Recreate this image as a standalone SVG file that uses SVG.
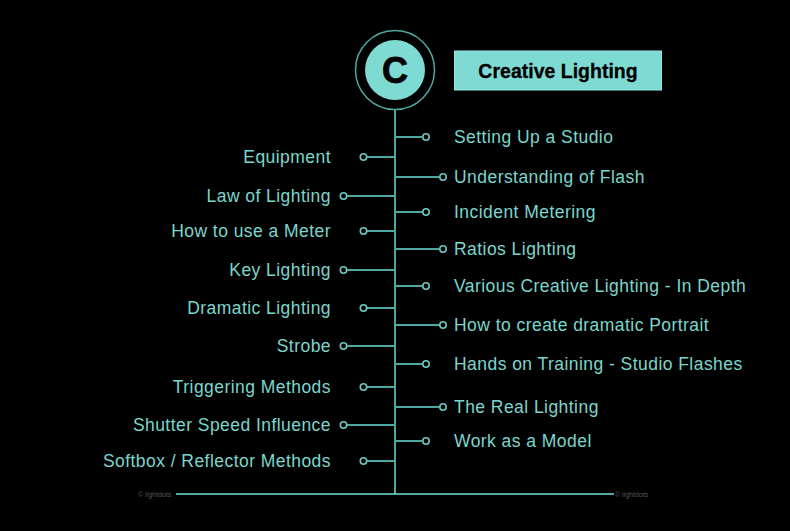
<svg xmlns="http://www.w3.org/2000/svg" width="790" height="531" viewBox="0 0 790 531">
<style>
.ln{stroke:#4fa8a0;stroke-width:2;fill:none}
.dot{stroke:#6cc8c0;stroke-width:1.6;fill:#000}
.lt{font-family:"Liberation Sans",Arial,sans-serif;font-size:17.5px;fill:#7ad6ce;letter-spacing:0.45px}
.l{text-anchor:end}
.wm{font-family:"Liberation Sans",Arial,sans-serif;font-size:7px;fill:#555}
</style>
<rect width="790" height="531" fill="#000"/>
<g id="connectors">
<line class="ln" x1="395" y1="110" x2="395" y2="494"/>
<line x1="176" y1="494" x2="614" y2="494" stroke="#6fe0d8" stroke-width="1.5"/>
<path class="ln" d="M395 157H367M395 196H347M395 231H367M395 270H347M395 308H367M395 346H347M395 387H367M395 425H347M395 461H367"/>
<path class="ln" d="M395 137H422M395 177H439M395 212H422M395 249H439M395 286H422M395 325H439M395 364H422M395 407H439M395 441H422"/>
</g>
<g id="hub">
<circle cx="395" cy="70" r="39.5" fill="none" stroke="#4fa8a0" stroke-width="1.5"/>
<circle cx="395" cy="70" r="30" fill="#7ddbd3"/>
<text x="395" y="83" text-anchor="middle" font-family="Liberation Sans,Arial,sans-serif" font-weight="bold" font-size="36" fill="#000" stroke="#000" stroke-width="0.8">C</text>
</g>
<g id="title">
<rect x="454.5" y="51" width="207" height="39" fill="#7ddbd3" stroke="#9ae8e0" stroke-width="1"/>
<text x="558" y="78" text-anchor="middle" font-family="Liberation Sans,Arial,sans-serif" font-weight="bold" font-size="19.5" fill="#000" stroke="#000" stroke-width="0.3">Creative Lighting</text>
</g>
<g id="n-equipment"><circle class="dot" cx="363.5" cy="157" r="3.2"/><text class="lt l" x="331" y="163">Equipment</text></g>
<g id="n-law"><circle class="dot" cx="343.5" cy="196" r="3.2"/><text class="lt l" x="331" y="202">Law of Lighting</text></g>
<g id="n-meter"><circle class="dot" cx="363.5" cy="231" r="3.2"/><text class="lt l" x="331" y="237">How to use a Meter</text></g>
<g id="n-key"><circle class="dot" cx="343.5" cy="270" r="3.2"/><text class="lt l" x="331" y="276">Key Lighting</text></g>
<g id="n-dramatic"><circle class="dot" cx="363.5" cy="308" r="3.2"/><text class="lt l" x="331" y="314">Dramatic Lighting</text></g>
<g id="n-strobe"><circle class="dot" cx="343.5" cy="346" r="3.2"/><text class="lt l" x="331" y="352">Strobe</text></g>
<g id="n-trigger"><circle class="dot" cx="363.5" cy="387" r="3.2"/><text class="lt l" x="331" y="393">Triggering Methods</text></g>
<g id="n-shutter"><circle class="dot" cx="343.5" cy="425" r="3.2"/><text class="lt l" x="331" y="431">Shutter Speed Influence</text></g>
<g id="n-softbox"><circle class="dot" cx="363.5" cy="461" r="3.2"/><text class="lt l" x="331" y="467">Softbox / Reflector Methods</text></g>
<g id="n-studio"><circle class="dot" cx="426" cy="137" r="3.2"/><text class="lt" x="454" y="143">Setting Up a Studio</text></g>
<g id="n-flash"><circle class="dot" cx="443" cy="177" r="3.2"/><text class="lt" x="454" y="183">Understanding of Flash</text></g>
<g id="n-incident"><circle class="dot" cx="426" cy="212" r="3.2"/><text class="lt" x="454" y="218">Incident Metering</text></g>
<g id="n-ratios"><circle class="dot" cx="443" cy="249" r="3.2"/><text class="lt" x="454" y="255">Ratios Lighting</text></g>
<g id="n-various"><circle class="dot" cx="426" cy="286" r="3.2"/><text class="lt" x="454" y="292">Various Creative Lighting - In Depth</text></g>
<g id="n-portrait"><circle class="dot" cx="443" cy="325" r="3.2"/><text class="lt" x="454" y="331">How to create dramatic Portrait</text></g>
<g id="n-hands"><circle class="dot" cx="426" cy="364" r="3.2"/><text class="lt" x="454" y="370">Hands on Training - Studio Flashes</text></g>
<g id="n-real"><circle class="dot" cx="443" cy="407" r="3.2"/><text class="lt" x="454" y="413">The Real Lighting</text></g>
<g id="n-model"><circle class="dot" cx="426" cy="441" r="3.2"/><text class="lt" x="454" y="447">Work as a Model</text></g>
<text class="wm" x="138" y="496.5">© lightdots</text>
<text class="wm" x="615" y="496.5">© lightdots</text>
</svg>
